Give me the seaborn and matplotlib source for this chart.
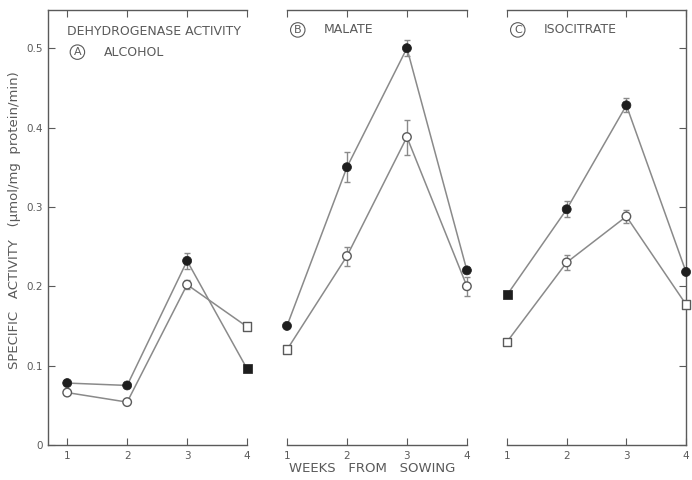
import numpy as np
import pandas as pd
import seaborn as sns
import matplotlib.pyplot as plt

weeks = [1, 2, 3, 4]

# panel values: filled (dark) and open series, with +- error and marker shapes
alcohol_filled = [0.078, 0.075, 0.232, 0.096]
alcohol_open = [0.066, 0.054, 0.202, 0.149]
alcohol_filled_err = [0, 0, 0.010, 0]
alcohol_open_err = [0, 0, 0.006, 0]
alcohol_filled_mk = ["o", "o", "o", "s"]
alcohol_open_mk = ["o", "o", "o", "s"]

malate_filled = [0.150, 0.350, 0.500, 0.220]
malate_open = [0.120, 0.238, 0.388, 0.200]
malate_filled_err = [0, 0.019, 0.010, 0]
malate_open_err = [0, 0.012, 0.022, 0.012]
malate_filled_mk = ["o", "o", "o", "o"]
malate_open_mk = ["s", "o", "o", "o"]

isocit_filled = [0.189, 0.297, 0.428, 0.218]
isocit_open = [0.130, 0.230, 0.288, 0.177]
isocit_filled_err = [0, 0.010, 0.009, 0]
isocit_open_err = [0, 0.010, 0.008, 0]
isocit_filled_mk = ["s", "o", "o", "o"]
isocit_open_mk = ["s", "o", "o", "s"]

yticks = [0, 0.1, 0.2, 0.3, 0.4, 0.5]
ytick_labels = ["0", "0.1", "0.2", "0.3", "0.4", "0.5"]

panels = [
    ("A", "ALCOHOL", alcohol_filled, alcohol_open, alcohol_filled_err, alcohol_open_err,
     alcohol_filled_mk, alcohol_open_mk),
    ("B", "MALATE", malate_filled, malate_open, malate_filled_err, malate_open_err,
     malate_filled_mk, malate_open_mk),
    ("C", "ISOCITRATE", isocit_filled, isocit_open, isocit_filled_err, isocit_open_err,
     isocit_filled_mk, isocit_open_mk),
]

sns.set_style("ticks")
plt.rcParams["font.family"] = ["DejaVu Sans"]
ink = "#5a5a5a"
line_c = "#8a8a8a"
dark = "#1e1e1e"

fig = plt.figure(figsize=(6.92, 4.8), dpi=100)
boxes = [(0.0694, 0.2876, 0.68), (0.4147, 0.2600, 1.0), (0.7327, 0.2587, 1.0)]

for i, (letter, name, f, o, fe, oe, fm, om) in enumerate(panels):
    left, width, xmin = boxes[i]
    ax = fig.add_axes([left, 0.073, width, 0.906])
    rows = []
    for series, vals, errs, mks in (("filled", f, fe, fm), ("open", o, oe, om)):
        for w, v, e, m in zip(weeks, vals, errs, mks):
            rows.append(dict(week=w, value=v, err=e, series=series, shape=m))
    df = pd.DataFrame(rows)

    sns.lineplot(data=df, x="week", y="value", units="series", estimator=None,
                 color=line_c, lw=1.1, ax=ax, legend=False, zorder=1, clip_on=False)
    for series, sub in df.groupby("series"):
        ax.errorbar(sub["week"], sub["value"], yerr=sub["err"], fmt="none",
                    ecolor=line_c, elinewidth=1, capsize=2, zorder=2, clip_on=False)
    sns.scatterplot(data=df[df.series == "filled"], x="week", y="value", style="shape",
                    markers={"o": "o", "s": "s"}, color=dark, edgecolor=dark, s=42,
                    ax=ax, legend=False, zorder=3, clip_on=False)
    sns.scatterplot(data=df[df.series == "open"], x="week", y="value", style="shape",
                    markers={"o": "o", "s": "s"}, color="white", edgecolor=ink,
                    linewidth=1, s=38, ax=ax, legend=False, zorder=3, clip_on=False)

    ax.set_xlim(xmin, 4.0)
    ax.set_ylim(0, 0.548)
    ax.set_xticks(weeks)
    ax.set_xticklabels([str(w) for w in weeks])
    ax.set_xlabel("")
    ax.set_ylabel("")
    for sp in ax.spines.values():
        sp.set_color(ink)
        sp.set_linewidth(1)
    ax.tick_params(axis="x", direction="in", top=True, bottom=True, length=5,
                   colors=ink, labelsize=7.5, pad=4)
    if i == 0:
        ax.spines["right"].set_visible(False)
        ax.set_yticks(yticks)
        ax.set_yticklabels(ytick_labels)
        ax.tick_params(axis="y", direction="in", length=5, colors=ink, labelsize=7.5)
        ax.text(1.0, 0.521, "DEHYDROGENASE ACTIVITY", color=ink, fontsize=9,
                va="center", ha="left")
    elif i == 1:
        ax.spines["right"].set_visible(False)
        ax.spines["left"].set_visible(False)
        ax.set_yticks([])
    else:
        ax.spines["left"].set_visible(False)
        ax.set_yticks(yticks)
        ax.yaxis.tick_right()
        ax.tick_params(axis="y", direction="in", length=5, colors=ink, labelright=False)
    ty = 0.495 if i == 0 else 0.523
    cx = 1.17 if i == 0 else 1.18
    ax.text(cx, ty, letter, color=ink, fontsize=8, ha="center", va="center",
            bbox=dict(boxstyle="circle,pad=0.2", fc="white", ec=ink, lw=0.8))
    ax.text(1.62, ty, name, color=ink, fontsize=9, ha="left", va="center")

fig.text(0.021, 0.542, "SPECIFIC   ACTIVITY   (\u03bcmol/mg  protein/min)", rotation=90,
         color=ink, fontsize=9.5, ha="center", va="center")
fig.text(0.538, 0.025, "WEEKS   FROM   SOWING", color=ink, fontsize=9.5,
         ha="center", va="center")

fig.savefig("out.png", dpi=100, facecolor="white")
